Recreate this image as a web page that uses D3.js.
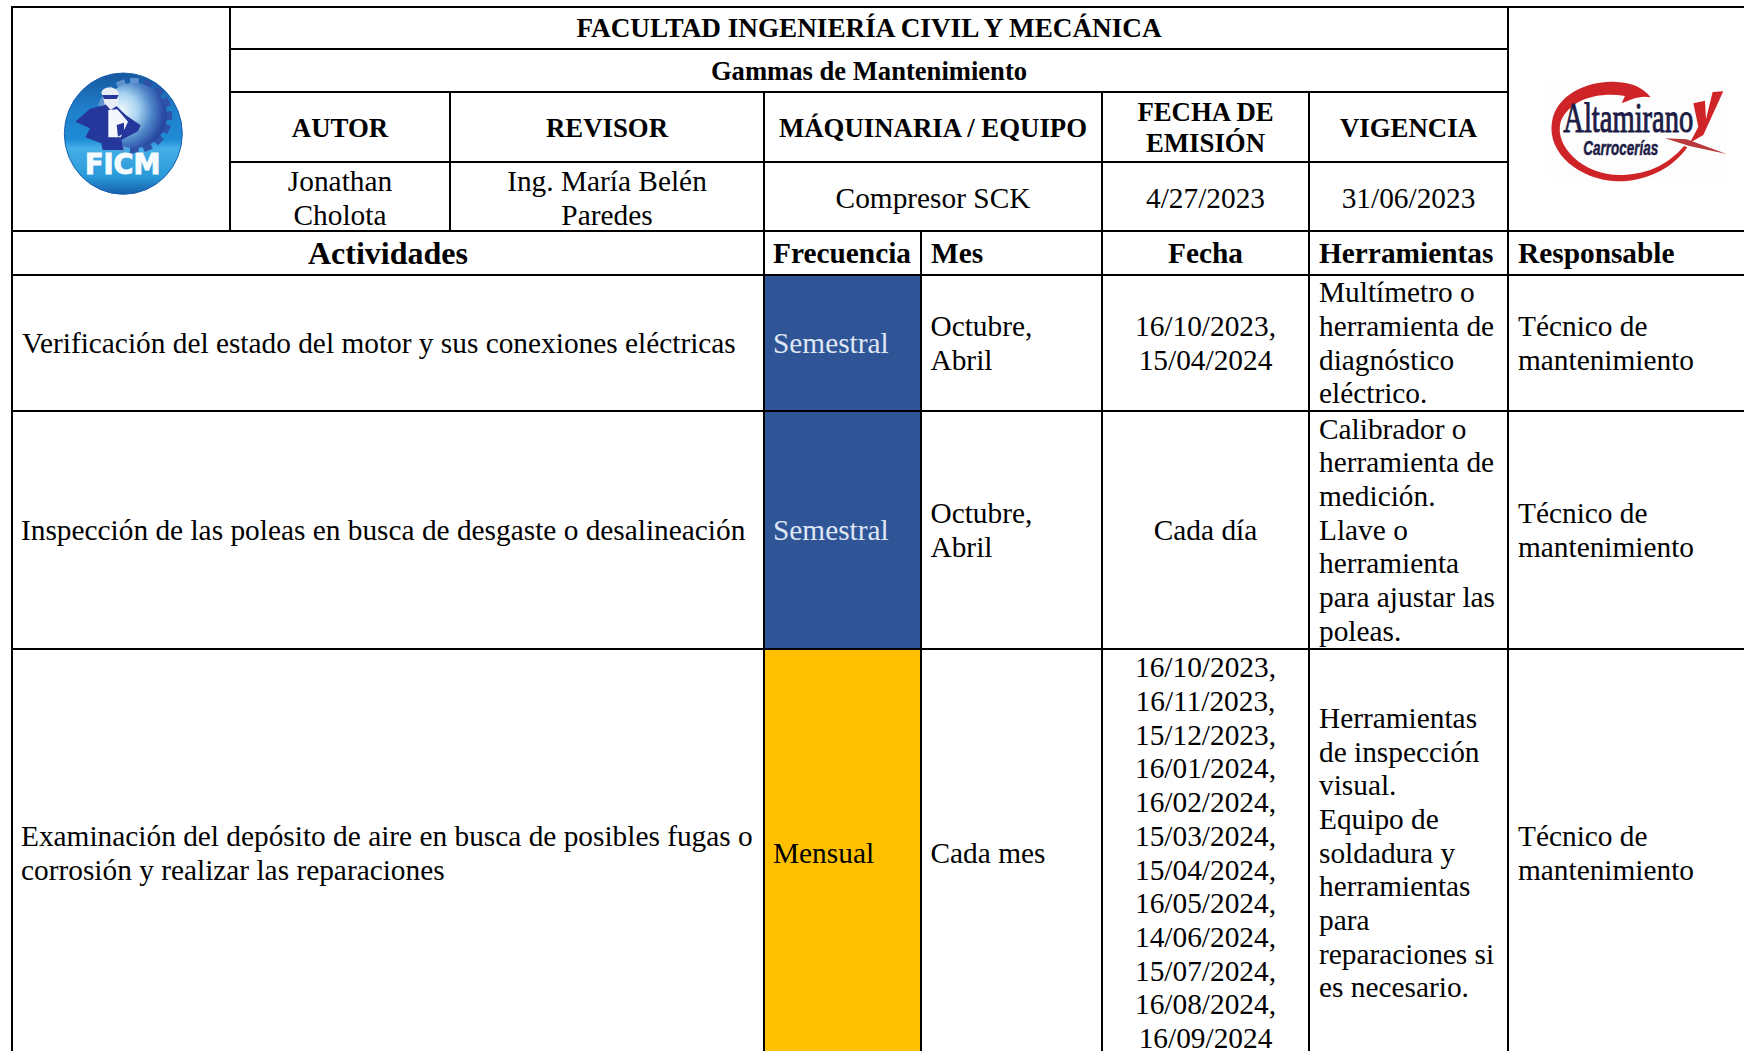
<!DOCTYPE html>
<html>
<head>
<meta charset="utf-8">
<script src="https://cdn.jsdelivr.net/npm/d3@7"></script>
<style>
  html, body { margin: 0; padding: 0; background: #fff; overflow: hidden; }
  text { font-family: "Liberation Serif", serif; fill: #000; }
</style>
</head>
<body>
<div class="main-chart"></div>
<script>
// datos de la tabla
const titulo = `FACULTAD INGENIERÍA CIVIL Y MECÁNICA`;
const subtitulo = `Gammas de Mantenimiento`;
const metaHeaders = [[`AUTOR`], [`REVISOR`], [`MÁQUINARIA / EQUIPO`], [`FECHA DE`, `EMISIÓN`], [`VIGENCIA`]];
const metaValues = [[`Jonathan`, `Cholota`], [`Ing. María Belén`, `Paredes`], [`Compresor SCK`], [`4/27/2023`], [`31/06/2023`]];
const columnHeaders = [`Actividades`, `Frecuencia`, `Mes`, `Fecha`, `Herramientas`, `Responsable`];
const actividades = [
  [`Verificación del estado del motor y sus conexiones eléctricas`],
  [`Inspección de las poleas en busca de desgaste o desalineación`],
  [`Examinación del depósito de aire en busca de posibles fugas o`, `corrosión y realizar las reparaciones`]
];
const frecuencias = [`Semestral`, `Semestral`, `Mensual`];
const meses = [[`Octubre,`, `Abril`], [`Octubre,`, `Abril`], [`Cada mes`]];
const fechas = [
  [`16/10/2023,`, `15/04/2024`],
  [`Cada día`],
  [`16/10/2023,`, `16/11/2023,`, `15/12/2023,`, `16/01/2024,`, `16/02/2024,`, `15/03/2024,`,
    `15/04/2024,`, `16/05/2024,`, `14/06/2024,`, `15/07/2024,`, `16/08/2024,`, `16/09/2024`]
];
const herramientas = [
  [`Multímetro o`, `herramienta de`, `diagnóstico`, `eléctrico.`],
  [`Calibrador o`, `herramienta de`, `medición.`, `Llave o`, `herramienta`, `para ajustar las`, `poleas.`],
  [`Herramientas`, `de inspección`, `visual.`, `Equipo de`, `soldadura y`, `herramientas`, `para`, `reparaciones si`, `es necesario.`]
];
const responsables = [[`Técnico de`, `mantenimiento`], [`Técnico de`, `mantenimiento`], [`Técnico de`, `mantenimiento`]];

// rejilla
const width = 1744, height = 1051;
const vx = [12, 230, 450, 764, 921, 1102, 1309, 1508, 1744];
const hy = [7, 49, 92, 162, 231, 275, 411, 649, 1057];
const frecuenciaColor = d3.scaleOrdinal().domain([`Semestral`, `Mensual`]).range([`#2f5597`, `#ffc000`]);
const frecuenciaText = d3.scaleOrdinal().domain([`Semestral`, `Mensual`]).range([`#dfe6f4`, `#000`]);

const svg = d3.select(`.main-chart`).append(`svg`)
  .attr(`width`, width)
  .attr(`height`, height)
  .style(`display`, `block`);

function cell(x0, x1, y0, y1, lines, opt = {}) {
  const size = opt.size || 29.35, lh = opt.lh || 33.7;
  const mid = (opt.cy !== undefined ? opt.cy : (y0 + y1) / 2);
  const g = svg.append(`g`);
  g.selectAll(`text`).data(lines).enter().append(`text`)
    .attr(`x`, opt.left !== undefined ? opt.left : (x0 + x1) / 2)
    .attr(`y`, (d, i) => mid + (i - (lines.length - 1) / 2) * lh + size * 0.33)
    .attr(`text-anchor`, opt.left !== undefined ? `start` : `middle`)
    .attr(`font-size`, size)
    .attr(`font-weight`, opt.bold ? `bold` : `normal`)
    .style(`fill`, opt.fill || `#000`)
    .text(d => d);
}

// texto de logo ajustado a un ancho, sin textLength
function fitText(parent, label, x, y, targetWidth, font, size, weight, style, color, strokeW) {
  const t = parent.append(`text`)
    .attr(`font-size`, size)
    .attr(`font-weight`, weight)
    .attr(`font-style`, style)
    .attr(`stroke`, color)
    .attr(`stroke-width`, strokeW)
    .style(`font-family`, font)
    .style(`fill`, color)
    .text(label);
  const k = targetWidth / t.node().getComputedTextLength();
  t.attr(`transform`, `translate(${x},${y}) scale(${k},1)`);
}

// rellenos de frecuencia
svg.selectAll(`.freq`).data(frecuencias).enter().append(`rect`)
  .attr(`class`, `freq`)
  .attr(`x`, vx[3])
  .attr(`y`, (d, i) => hy[5 + i])
  .attr(`width`, vx[4] - vx[3])
  .attr(`height`, (d, i) => hy[6 + i] - hy[5 + i])
  .attr(`fill`, d => frecuenciaColor(d));

// encabezado
cell(vx[1], vx[7], hy[0], hy[1], [titulo], {bold: true, size: 27.2, cy: 27.6});
cell(vx[1], vx[7], hy[1], hy[2], [subtitulo], {bold: true, size: 26.6, cy: 71});

const metaCols = [[vx[1], vx[2]], [vx[2], vx[3]], [vx[3], vx[5]], [vx[5], vx[6]], [vx[6], vx[7]]];
metaHeaders.forEach((lines, i) => {
  cell(metaCols[i][0], metaCols[i][1], hy[2], hy[3], lines, {bold: true, size: 26.8, lh: 30.5, cy: 127.8});
});
metaValues.forEach((lines, i) => {
  cell(metaCols[i][0], metaCols[i][1], hy[3], hy[4], lines, {cy: 198});
});

// títulos de columna
cell(vx[0], vx[3], hy[4], hy[5], [columnHeaders[0]], {bold: true, size: 32, cy: 253.6});
cell(vx[3], vx[4], hy[4], hy[5], [columnHeaders[1]], {bold: true, left: 773, cy: 253.6});
cell(vx[4], vx[5], hy[4], hy[5], [columnHeaders[2]], {bold: true, left: 931, cy: 253.6});
cell(vx[5], vx[6], hy[4], hy[5], [columnHeaders[3]], {bold: true, cy: 253.6});
cell(vx[6], vx[7], hy[4], hy[5], [columnHeaders[4]], {bold: true, left: 1319, cy: 253.6});
cell(vx[7], vx[8], hy[4], hy[5], [columnHeaders[5]], {bold: true, left: 1518, cy: 253.6});

// filas
actividades.forEach((lines, i) => {
  const y0 = hy[5 + i], y1 = hy[6 + i];
  cell(vx[0], vx[3], y0, y1, lines, {left: i === 0 ? 22 : 21});
  cell(vx[3], vx[4], y0, y1, [frecuencias[i]], {left: 773, fill: frecuenciaText(frecuencias[i])});
  cell(vx[4], vx[5], y0, y1, meses[i], {left: 930.5});
  cell(vx[5], vx[6], y0, y1, fechas[i]);
  cell(vx[6], vx[7], y0, y1, herramientas[i], {left: 1319});
  cell(vx[7], vx[8], y0, y1, responsables[i], {left: 1518});
});

// líneas
const rules = [
  [vx[0], vx[8], hy[0], hy[0]],
  [vx[1], vx[7], hy[1], hy[1]],
  [vx[1], vx[7], hy[2], hy[2]],
  [vx[1], vx[7], hy[3], hy[3]],
  [vx[0], vx[8], hy[4], hy[4]],
  [vx[0], vx[8], hy[5], hy[5]],
  [vx[0], vx[8], hy[6], hy[6]],
  [vx[0], vx[8], hy[7], hy[7]],
  [vx[0], vx[0], hy[0], hy[8]],
  [vx[1], vx[1], hy[0], hy[4]],
  [vx[2], vx[2], hy[2], hy[4]],
  [vx[3], vx[3], hy[2], hy[8]],
  [vx[4], vx[4], hy[4], hy[8]],
  [vx[5], vx[5], hy[2], hy[8]],
  [vx[6], vx[6], hy[2], hy[8]],
  [vx[7], vx[7], hy[0], hy[8]]
];
svg.selectAll(`.rule`).data(rules).enter().append(`line`)
  .attr(`class`, `rule`)
  .attr(`x1`, d => d[0]).attr(`x2`, d => d[1])
  .attr(`y1`, d => d[2]).attr(`y2`, d => d[3])
  .attr(`stroke`, `#000`)
  .attr(`stroke-width`, 2)
  .attr(`stroke-linecap`, `square`);

// logo FICM
const defs = svg.append(`defs`);
const ball = defs.append(`linearGradient`).attr(`id`, `ball`).attr(`x1`, 0).attr(`y1`, 0).attr(`x2`, 0).attr(`y2`, 1);
[[0, `#16589f`], [0.3, `#1f7fca`], [0.55, `#1f8cd6`], [0.62, `#45aee6`], [0.85, `#2a9ada`], [1, `#155fa8`]]
  .forEach(d => ball.append(`stop`).attr(`offset`, d[0]).attr(`stop-color`, d[1]));
const gearFill = defs.append(`radialGradient`).attr(`id`, `gearFill`).attr(`cx`, 0.3).attr(`cy`, 0.42).attr(`r`, 0.75);
[[0, `#f2fafe`], [0.35, `#a5d2f0`], [0.62, `#4f86c8`], [0.85, `#2c4fa6`], [1, `#233f98`]]
  .forEach(d => gearFill.append(`stop`).attr(`offset`, d[0]).attr(`stop-color`, d[1]));

const ficm = svg.append(`g`).attr(`transform`, `translate(40,50) scale(0.3333)`);
ficm.append(`ellipse`).attr(`cx`, 250).attr(`cy`, 251).attr(`rx`, 177).attr(`ry`, 182)
  .attr(`fill`, `url(#ball)`).attr(`stroke`, `#1b5fae`).attr(`stroke-width`, 3);
const gearTeeth = d3.range(0, 360, 22.5);
ficm.append(`g`).selectAll(`rect`).data(gearTeeth).enter().append(`rect`)
  .attr(`x`, 270).attr(`y`, 84).attr(`width`, 26).attr(`height`, 34)
  .attr(`fill`, d => (d > 20 && d < 200) ? `#2f52a8` : `#5f93cf`)
  .attr(`transform`, d => `rotate(${d} 283 197)`);
ficm.append(`circle`).attr(`cx`, 283).attr(`cy`, 197).attr(`r`, 98).attr(`fill`, `url(#gearFill)`);
ficm.append(`path`)
  .attr(`d`, `M106 215 L150 176 L192 166 L205 158 L232 170 L258 196 L302 226 L294 244 L244 270 L250 300 L188 300 L184 280 L136 262 L150 235 Z`)
  .attr(`fill`, `#26379b`);
ficm.append(`path`).attr(`d`, `M205 180 L232 178 L264 215 L242 262 L205 262 Z`).attr(`fill`, `#f4f7fc`);
ficm.append(`path`).attr(`d`, `M230 225 L252 218 L252 250 L234 260 Z`).attr(`fill`, `#26379b`);
ficm.append(`path`).attr(`d`, `M184 128 C188 108 226 106 236 128 L234 165 L212 180 L194 160 Z`).attr(`fill`, `#e8edf8`);
ficm.append(`path`).attr(`d`, `M186 135 L236 135 L230 147 L192 147 Z`).attr(`fill`, `#26379b`);
fitText(ficm, `FICM`, 135, 372, 226, `"DejaVu Sans", sans-serif`, 86, `bold`, `normal`, `#f6fbfe`, 3);

// logo Altamirano
const alta = svg.append(`g`).attr(`transform`, `translate(1530,60) scale(0.3333)`);
alta.append(`rect`).attr(`x`, 60).attr(`y`, 62).attr(`width`, 530).attr(`height`, 303).attr(`fill`, `#fdfdfd`);
alta.append(`path`)
  .attr(`d`, `M362 112 C330 105 300 120 275 130 L285 108 C210 95 120 115 92 185 C72 260 160 345 270 345 C340 345 410 320 462 258 L472 262 C425 330 340 366 262 364 C150 360 50 280 66 185 C80 100 180 60 260 66 C310 68 340 85 362 112 Z`)
  .attr(`fill`, `#cf2427`);
alta.append(`path`).attr(`d`, `M405 235 L470 238 L590 282 L478 258 Z`).attr(`fill`, `#b8393c`);
alta.append(`path`)
  .attr(`d`, `M490 130 L525 122 L528 178 L548 96 L580 94 L520 225 L480 248 L505 200 Z`)
  .attr(`fill`, `#cf2427`);
fitText(alta, `Altamirano`, 100, 215, 390, `"Liberation Serif", serif`, 124, `normal`, `normal`, `#1c1c46`, 3);
fitText(alta, `Carrocerías`, 160, 284, 225, `"Liberation Sans", sans-serif`, 62, `bold`, `italic`, `#1c1c46`, 1.5);
</script>
</body>
</html>
